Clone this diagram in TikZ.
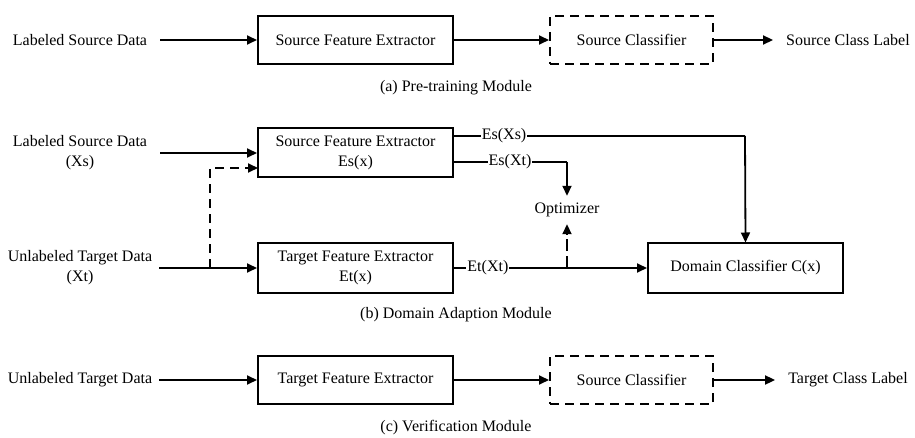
\documentclass[tikz,border=0pt]{standalone}
\usepackage{fontspec}
\setmainfont{Liberation Serif}
\usetikzlibrary{arrows.meta}
\begin{document}
\begin{tikzpicture}[x=1pt,y=-1pt,
  every node/.style={font=\fontsize{16}{20}\selectfont, inner sep=0pt},
  box/.style={draw, line width=2pt, minimum height=48pt, align=center},
  dbox/.style={box, dash pattern=on 9pt off 6pt},
  txt/.style={align=center},
  lbl/.style={fill=white, inner xsep=1pt},
  arr/.style={line width=1.8pt, -{Triangle[length=10pt,width=9pt]}},
  con/.style={line width=1.8pt},
  darr/.style={arr, dash pattern=on 9pt off 6pt}]
\useasboundingbox (0,0) rectangle (915,438);

% (a)
\node[txt] (ain) at (80,40) {Labeled Source Data};
\node[box, minimum width=195pt] (asfe) at (355.5,40) {Source Feature Extractor};
\node[dbox, minimum width=163pt] (asc) at (631.5,40) {Source Classifier};
\node[txt] (aout) at (848,40) {Source Class Label};
\node (acap) at (456,88) {(a) Pre-training Module};
\draw[arr, shorten <=13pt] (ain.east) -- (asfe.west);
\draw[arr] (asfe.east) -- (asc.west);
\draw[arr, shorten >=13pt] (asc.east) -- (aout.west);

% (b)
\node[txt] (bin1) at (80,153) {Labeled Source Data\\(Xs)};
\node[txt] (bin2) at (80,268) {Unlabeled Target Data\\(Xt)};
\node[box, minimum width=195pt, minimum height=49pt] (bsfe) at (355.5,153) {Source Feature Extractor\\Es(x)};
\node[box, minimum width=195pt, minimum height=49pt] (btfe) at (355.5,268) {Target Feature Extractor\\Et(x)};
\node (bopt) at (567,210) {Optimizer};
\node[box, minimum width=195pt, minimum height=49pt] (bdc) at (745.5,268) {Domain Classifier C(x)};
\node (bcap) at (456,315) {(b) Domain Adaption Module};

\coordinate (split) at (210,268);
\coordinate (s1) at (160,153);
\draw[arr] (s1) -- (s1 -| bsfe.west);
\draw[arr, shorten <=7pt] (bin2.east |- split) -- (split -| btfe.west);
\draw[darr] (split) -- (210,168) -- (258,168);

\draw[con] (453,136) -- node[lbl, pos=0.175] (lesxs) {Es(Xs)} (745,136);
\draw[arr] (745,136) -- (bdc.north);
\draw[con] (453,162) -- node[lbl, pos=0.5] (lesxt) {Es(Xt)} (567,162);
\draw[arr] (567,162) -- ([yshift=7pt]bopt.north);
\draw[con] (btfe.east) -- node[lbl, pos=0.3] (letxt) {Et(Xt)} (567,268) coordinate (osplit);
\draw[arr] (osplit) -- (bdc.west);
\draw[darr, dash pattern=on 12pt off 5pt] (osplit) -- ([yshift=-7pt]bopt.south);

% (c)
\node[txt] (cin) at (80,380) {Unlabeled Target Data};
\node[box, minimum width=195pt] (ctfe) at (355.5,380) {Target Feature Extractor};
\node[dbox, minimum width=163pt] (csc) at (631.5,380) {Source Classifier};
\node[txt] (cout) at (848,380) {Target Class Label};
\node (ccap) at (456,428) {(c) Verification Module};
\draw[arr, shorten <=7pt] (cin.east) -- (ctfe.west);
\draw[arr] (ctfe.east) -- (csc.west);
\draw[arr, shorten >=13pt] (csc.east) -- (cout.west);
\end{tikzpicture}
\end{document}
